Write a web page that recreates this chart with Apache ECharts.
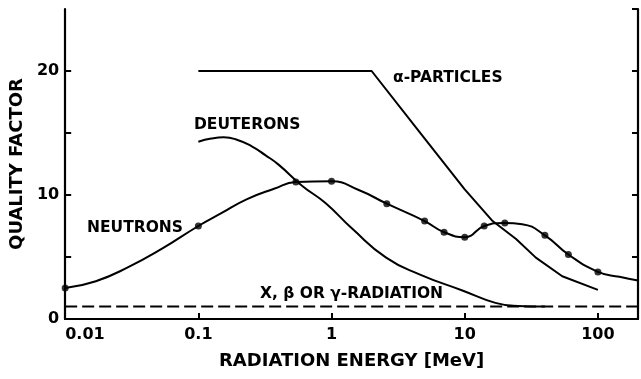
<!DOCTYPE html>
<html>
<head>
<meta charset="utf-8">
<script src="https://cdn.jsdelivr.net/npm/echarts@6/dist/echarts.min.js"></script>
<style>
  html, body { margin: 0; padding: 0; background: #fff; }
  #chart { width: 641px; height: 379px; }
</style>
</head>
<body>
<div id="chart"></div>
<script>
// Quality factor versus radiation energy (MeV)

// Neutrons: measured points (dots)
const neutronDotEnergy = [0.01, 0.1, 0.54, 1, 2.6, 5, 7, 10, 14, 20, 40, 60, 100];
const neutronDotQ      = [2.5, 7.5, 11.05, 11.1, 9.3, 7.9, 7.0, 6.6, 7.5, 7.75, 6.75, 5.2, 3.8];

// Neutrons: smooth curve through the points
const neutronCurveEnergy = [0.01, 0.017, 0.03, 0.053, 0.1, 0.15, 0.23, 0.37, 0.54, 1, 1.6, 2.6, 5, 7, 10, 14, 20, 27, 40, 60, 100, 145, 200];
const neutronCurveQ      = [2.5, 3.05, 4.2, 5.65, 7.5, 8.55, 9.65, 10.5, 11.05, 11.1, 10.4, 9.3, 7.9, 7.0, 6.6, 7.5, 7.75, 7.65, 6.75, 5.2, 3.8, 3.4, 3.1];

// Deuterons
const deuteronEnergy = [0.1, 0.125, 0.155, 0.19, 0.25, 0.32, 0.4, 0.6, 0.9, 1.44, 2.57, 4.57, 9.6, 17, 25, 40];
const deuteronQ      = [14.3, 14.55, 14.65, 14.5, 13.95, 13.2, 12.45, 10.75, 9.35, 7.25, 4.95, 3.6, 2.3, 1.3, 1.05, 1.0];

// Alpha particles
const alphaEnergy = [0.1, 2, 4.6, 10, 16.2, 24.3, 34.2, 54, 100];
const alphaQ      = [20, 20, 15.05, 10.45, 7.9, 6.45, 4.95, 3.45, 2.35];

// X, beta or gamma radiation
const photonEnergy = [0.01, 200];
const photonQ      = [1, 1];

// Axis tick labels
const xTickValues = [0.01, 0.1, 1, 10, 100];
const xTickLabels = ['0.01', '0.1', '1', '10', '100'];
const yTickValues = [0, 10, 20];
const yTickLabels = ['0', '10', '20'];

const zip = (xs, ys) => xs.map((x, i) => [x, ys[i]]);

const FONT = "'DejaVu Sans', sans-serif";
const INK = '#000';

function xLabel(v) {
  for (let i = 0; i < xTickValues.length; i++) {
    if (Math.abs(Math.log10(v) - Math.log10(xTickValues[i])) < 1e-6) return xTickLabels[i];
  }
  return '';
}
function yLabel(v) {
  const i = yTickValues.indexOf(v);
  return i >= 0 ? yTickLabels[i] : '';
}

const chart = echarts.init(document.getElementById('chart'), null, { renderer: 'canvas' });

const lineStyle = { color: INK, width: 2 };
const labelFont = `bold 15.5px ${FONT}`;

chart.setOption({
  animation: false,
  backgroundColor: '#fff',
  grid: { left: 65, right: 3, top: 9, bottom: 60, containLabel: false },
  xAxis: [
    {
      type: 'log', logBase: 10, min: 0.01, max: 200, position: 'bottom',
      name: 'RADIATION ENERGY [MeV]', nameLocation: 'middle', nameGap: 33,
      nameTextStyle: { fontFamily: FONT, fontSize: 18, fontWeight: 'bold', color: INK },
      axisLine: { show: true, lineStyle: { color: INK, width: 2.2 } },
      axisTick: { show: true, inside: true, length: 6, lineStyle: { color: INK, width: 2 } },
      minorTick: { show: false },
      splitLine: { show: false },
      axisLabel: {
        margin: 8, fontFamily: FONT, fontSize: 16, fontWeight: 'bold', color: INK,
        formatter: xLabel, showMaxLabel: false, alignMinLabel: 'left'
      }
    },
    {
      type: 'log', logBase: 10, min: 0.01, max: 200, position: 'top',
      axisLine: { show: true, lineStyle: { color: INK, width: 2.2 } },
      axisTick: { show: false }, axisLabel: { show: false }, splitLine: { show: false }
    }
  ],
  yAxis: [
    {
      type: 'value', min: 0, max: 25, interval: 5, position: 'left',
      name: 'QUALITY FACTOR', nameLocation: 'middle', nameGap: 38,
      nameTextStyle: { fontFamily: FONT, fontSize: 18, fontWeight: 'bold', color: INK },
      axisLine: { show: true, lineStyle: { color: INK, width: 2.2 } },
      axisTick: { show: true, inside: true, length: 6, lineStyle: { color: INK, width: 2 } },
      splitLine: { show: false },
      axisLabel: {
        margin: 6, fontFamily: FONT, fontSize: 16, fontWeight: 'bold', color: INK,
        formatter: yLabel, showMaxLabel: false
      }
    },
    {
      type: 'value', min: 0, max: 25, interval: 5, position: 'right',
      axisLine: { show: true, lineStyle: { color: INK, width: 2.2 } },
      axisTick: { show: true, inside: true, length: 6, lineStyle: { color: INK, width: 2 } },
      axisLabel: { show: false }, splitLine: { show: false }
    }
  ],
  series: [
    {
      name: 'X, β OR γ-RADIATION', type: 'line', data: zip(photonEnergy, photonQ),
      showSymbol: false, lineStyle: { color: INK, width: 2, type: [12, 5] }, z: 2
    },
    {
      name: 'α-PARTICLES', type: 'line', data: zip(alphaEnergy, alphaQ),
      showSymbol: false, smooth: false, lineStyle: lineStyle, z: 3
    },
    {
      name: 'DEUTERONS', type: 'line', data: zip(deuteronEnergy, deuteronQ),
      showSymbol: false, smooth: 0.5, lineStyle: lineStyle, z: 3
    },
    {
      name: 'NEUTRONS', type: 'line', data: zip(neutronCurveEnergy, neutronCurveQ),
      showSymbol: false, smooth: 0.5, lineStyle: lineStyle, z: 3
    },
    {
      name: 'NEUTRONS (points)', type: 'scatter', data: zip(neutronDotEnergy, neutronDotQ),
      symbol: 'circle', symbolSize: 7, itemStyle: { color: INK }, z: 4
    }
  ],
  graphic: [
    { type: 'text', x: 393, y: 78, style: { text: 'α-PARTICLES', font: labelFont, fill: INK, textVerticalAlign: 'middle' } },
    { type: 'text', x: 194, y: 124.5, style: { text: 'DEUTERONS', font: labelFont, fill: INK, textVerticalAlign: 'middle' } },
    { type: 'text', x: 87, y: 227.5, style: { text: 'NEUTRONS', font: labelFont, fill: INK, textVerticalAlign: 'middle' } },
    { type: 'text', x: 260, y: 294, style: { text: 'X, β OR γ-RADIATION', font: labelFont, fill: INK, textVerticalAlign: 'middle' } }
  ]
});
</script>
</body>
</html>
